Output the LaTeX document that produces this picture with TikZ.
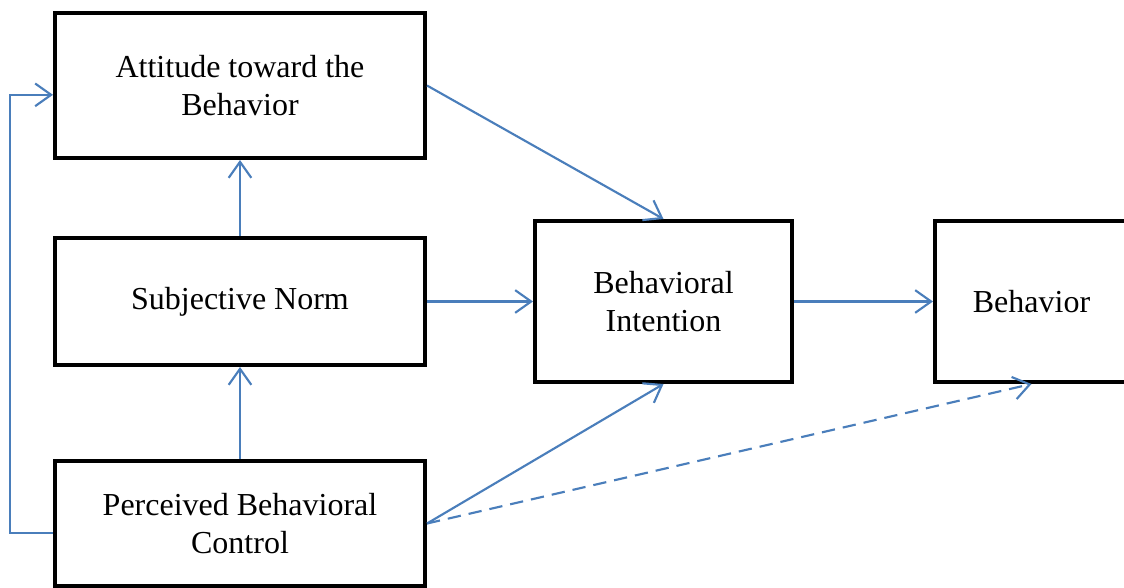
\documentclass[tikz,border=0pt]{standalone}
\usepackage{fontspec}
\setmainfont{Liberation Serif}
\usepackage{tikz}
\usetikzlibrary{calc,arrows.meta,positioning}
\definecolor{tpblue}{RGB}{74,126,187}

\begin{document}
\begin{tikzpicture}[x=0.75pt,y=-0.75pt]
    \tikzset{box/.style={draw=black,line width=3pt,align=center,inner sep=0pt,font=\fontsize{24}{28.5}\selectfont},
      link/.style={draw=tpblue,line width=1.6pt,-{Straight Barb[length=12pt,width=17pt,line width=1.6pt]}}}
    \useasboundingbox (0,0) rectangle (1124,588);
    \node[box,minimum width=370*0.75pt,minimum height=145*0.75pt] (att) at (240,85.5) {Attitude toward the\\Behavior};
    \node[box,minimum width=370*0.75pt,minimum height=127*0.75pt] (sn) at (240,301.5) {Subjective Norm};
    \node[box,minimum width=370*0.75pt,minimum height=125*0.75pt] (pbc) at (240,523.5) {Perceived Behavioral\\Control};
    \node[box,minimum width=257*0.75pt,minimum height=161*0.75pt] (bi) at (663.5,301.5) {Behavioral\\Intention};
    \node[box,minimum width=193*0.75pt,minimum height=161*0.75pt] (beh) at (1031.5,301.5) {Behavior};
    \draw[link] (att.east) -- (bi.north);
    \draw[link] (sn.east) -- (bi.west);
    \draw[link] (bi.east) -- (beh.west);
    \draw[link] (pbc.east) -- (bi.south);
    \draw[link,dash pattern=on 10pt off 6pt] (pbc.east) -- (beh.south);
    \draw[link] (sn.north) -- (att.south);
    \draw[link] (pbc.north) -- (sn.south);
    % feedback line on the left
    \draw[link] ([yshift=-7pt]pbc.west) -- ++(-32pt,0) |- ([yshift=-7pt]att.west);
  \end{tikzpicture}
\end{document}
